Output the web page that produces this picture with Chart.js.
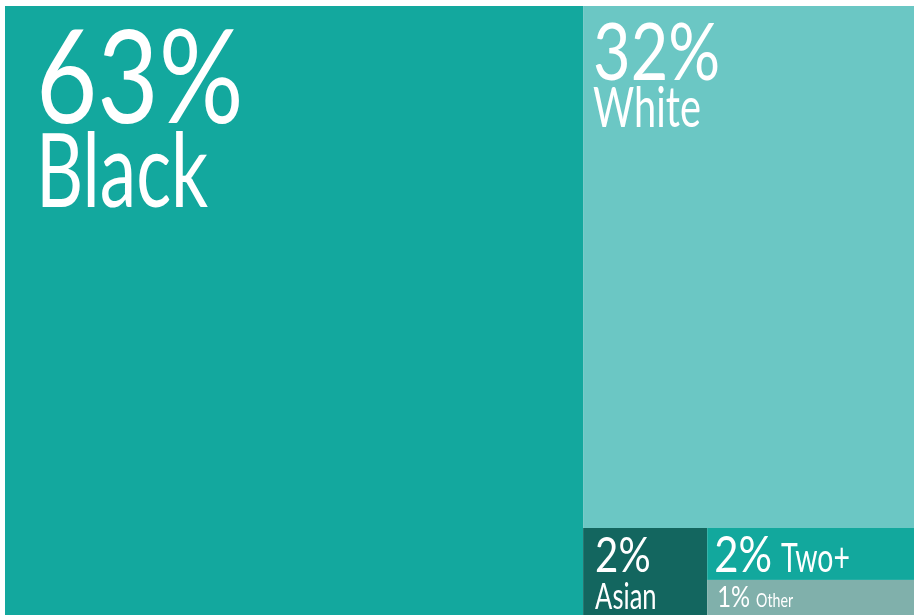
<!DOCTYPE html>
<html>
<head>
<meta charset="utf-8">
<script src="https://cdn.jsdelivr.net/npm/chart.js@4/dist/chart.umd.min.js"></script>
<style>
  html, body { margin: 0; padding: 0; background: #fff; }
  #wrap { width: 914px; height: 615px; }
</style>
</head>
<body>
<div id="wrap"><canvas id="treemap"></canvas></div>
<script>
// Share of each group (area of each cell)
const categories = ['Black', 'White', 'Asian', 'Two+', 'Other'];
const shares = [63.6, 31.2, 1.95, 1.94, 1.31];
const percentLabels = ['63%', '32%', '2%', '2%', '1%'];

const cellColors = ['#13a89e', '#6bc7c4', '#13665f', '#12a89d', '#80b0ab'];

// label styling per cell: font sizes, offsets from the cell's top-left, inline or stacked
const labelStyle = [
  { pct: 129, name: 103, dx: 31, pctBase: 117, nameBase: 201, inline: false },
  { pct: 79,  name: 56,  dx: 10, pctBase: 74,  nameBase: 121, inline: false },
  { pct: 49,  name: 36,  dx: 12, pctBase: 44,  nameBase: 81,  inline: false },
  { pct: 51,  name: 40,  dx: 7,  pctBase: 44,  gap: 9, inline: true },
  { pct: 29,  name: 20,  dx: 10, pctBase: 27,  gap: 6, inline: true }
];
const FONT = 'Lato, "DejaVu Sans", sans-serif';
const PCT_CONDENSE = 0.82;
const NAME_CONDENSE = 0.71;

// slice-and-dice layout, alternating direction, in data units (0..100 both axes)
function layoutCells(values) {
  let box = { x0: 0, x1: 100, y0: 0, y1: 100 };
  let rest = values.reduce((a, b) => a + b, 0);
  const cells = [];
  values.forEach((v, i) => {
    const last = i === values.length - 1;
    const f = last ? 1 : v / rest;
    let cell;
    if (i % 2 === 0) {
      const xs = box.x0 + f * (box.x1 - box.x0);
      cell = { x0: box.x0, x1: xs, y0: box.y0, y1: box.y1 };
      box = { x0: xs, x1: box.x1, y0: box.y0, y1: box.y1 };
    } else {
      const ys = box.y0 + f * (box.y1 - box.y0);
      cell = { x0: box.x0, x1: box.x1, y0: box.y0, y1: ys };
      box = { x0: box.x0, x1: box.x1, y0: ys, y1: box.y1 };
    }
    cells.push(cell);
    rest -= v;
  });
  return cells;
}

function drawText(ctx, text, size, x, y, sx) {
  ctx.save();
  ctx.font = '400 ' + size + 'px ' + FONT;
  ctx.translate(x, y);
  ctx.scale(sx, 1);
  ctx.fillText(text, 0, 0);
  const w = ctx.measureText(text).width * sx;
  ctx.restore();
  return w;
}

const treemapPlugin = {
  id: 'treemap',
  afterDatasetsDraw(chart) {
    const ctx = chart.ctx;
    const xs = chart.scales.x, ys = chart.scales.y;
    const cells = layoutCells(shares);
    cells.forEach((c, i) => {
      const left = xs.getPixelForValue(c.x0), right = xs.getPixelForValue(c.x1);
      const top = ys.getPixelForValue(c.y0), bottom = ys.getPixelForValue(c.y1);
      ctx.fillStyle = cellColors[i];
      ctx.fillRect(left, top, right - left, bottom - top);
    });
    ctx.fillStyle = '#ffffff';
    ctx.textBaseline = 'alphabetic';
    cells.forEach((c, i) => {
      const s = labelStyle[i];
      const left = xs.getPixelForValue(c.x0);
      const top = ys.getPixelForValue(c.y0);
      const w = drawText(ctx, percentLabels[i], s.pct, left + s.dx, top + s.pctBase, PCT_CONDENSE);
      if (s.inline) {
        drawText(ctx, categories[i], s.name, left + s.dx + w + s.gap, top + s.pctBase, NAME_CONDENSE);
      } else {
        drawText(ctx, categories[i], s.name, left + s.dx, top + s.nameBase, NAME_CONDENSE);
      }
    });
  }
};

new Chart(document.getElementById('treemap'), {
  type: 'scatter',
  data: { datasets: [{ data: [] }] },
  options: {
    responsive: true,
    maintainAspectRatio: false,
    animation: false,
    layout: { padding: { left: 5, top: 6, right: 0, bottom: 0 } },
    plugins: { legend: { display: false }, tooltip: { enabled: false } },
    scales: {
      x: { type: 'linear', min: 0, max: 100, display: false },
      y: { type: 'linear', min: 0, max: 100, reverse: true, display: false }
    }
  },
  plugins: [treemapPlugin]
});
</script>
</body>
</html>
